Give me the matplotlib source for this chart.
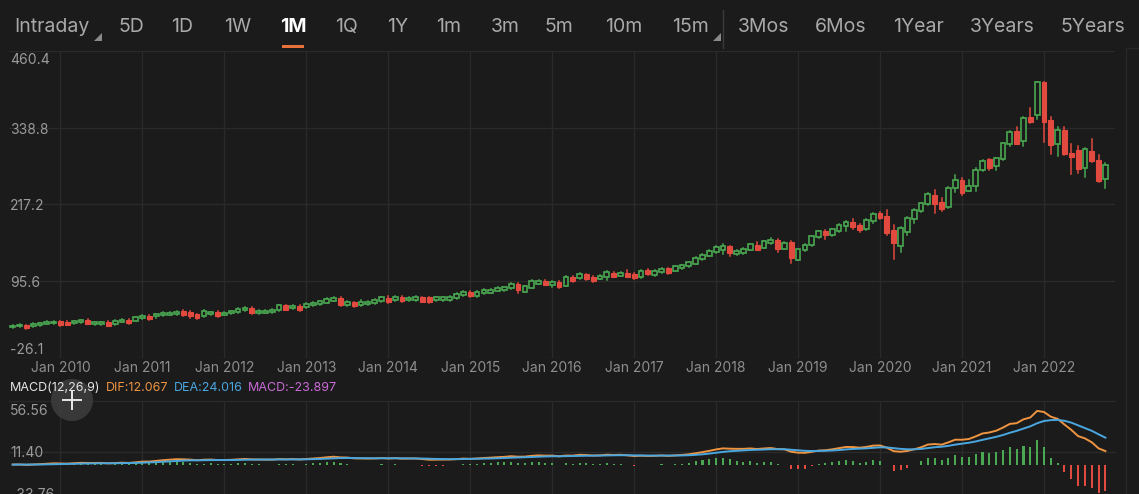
import numpy as np
import pandas as pd
import matplotlib
matplotlib.use('Agg')
import matplotlib.pyplot as plt
from matplotlib.patches import Rectangle, Ellipse
from matplotlib.lines import Line2D

'''
Monthly candles, Jun 2009 - Oct 2022 (values read off the chart)
'''
start_month = '2009-06'

opens = [22.5, 24.0, 25.8, 24.5, 26.0, 28.0, 29.0, 32.1, 31.0, 28.9,
         30.5, 34.2, 27.3, 27.3, 31.0, 27.9, 31.6, 34.7, 33.1, 37.4,
         41.1, 40.0, 42.1, 42.7, 44.3, 48.5, 47.4, 43.2, 40.6, 43.2,
         46.9, 42.7, 44.8, 46.9, 49.6, 53.3, 44.8, 45.8, 46.9, 49.6,
         57.5, 52.7, 57.0, 54.9, 58.0, 59.1, 61.7, 64.9, 69.7, 58.0,
         62.2, 58.0, 59.1, 61.2, 63.8, 69.7, 66.0, 70.7, 65.4, 66.0,
         70.2, 70.2, 66.0, 66.0, 66.0, 69.1, 73.4, 78.7, 72.3, 76.6,
         77.6, 80.8, 81.8, 84.5, 91.9, 79.2, 85.5, 91.9, 96.1, 89.2,
         94.5, 88.7, 103.0, 100.4, 106.7, 103.0, 99.3, 101.9, 109.3, 104.1,
         109.3, 107.2, 101.9, 114.1, 105.6, 109.9, 116.2, 112.0, 116.2, 118.9,
         123.1, 130.5, 135.8, 141.1, 144.8, 150.6, 138.5, 140.0, 145.3, 152.7,
         148.5, 155.4, 161.2, 147.4, 158.0, 129.5, 144.3, 152.2, 164.9, 175.5,
         168.1, 175.0, 183.4, 188.7, 184.5, 177.6, 191.4, 203.0, 199.3, 176.0,
         151.2, 173.4, 193.5, 206.2, 217.3, 232.1, 221.0, 212.5, 243.2, 255.9,
         239.0, 246.9, 271.3, 288.7, 278.7, 288.7, 313.1, 333.7, 317.3, 355.4,
         359.7, 410.5, 351.2, 313.1, 335.8, 299.3, 303.6, 274.4, 302.5, 287.7, 258.0]

highs = [26.0, 27.0, 26.8, 29.0, 30.0, 32.0, 32.5, 33.0, 32.0, 33.0,
         34.7, 35.2, 31.5, 31.5, 32.0, 34.2, 35.7, 35.7, 39.4, 41.6,
         42.1, 44.2, 46.3, 46.8, 48.4, 49.5, 48.4, 44.2, 50.0, 47.4,
         47.9, 46.8, 49.0, 53.2, 54.3, 54.3, 50.0, 50.0, 51.1, 58.5,
         58.5, 57.4, 58.0, 60.6, 62.7, 64.8, 69.1, 70.1, 70.7, 63.8,
         63.2, 65.4, 64.3, 67.0, 71.2, 72.0, 72.3, 71.7, 70.7, 71.7,
         71.2, 71.2, 71.2, 71.2, 72.3, 76.5, 80.2, 79.7, 80.2, 83.4,
         83.4, 86.5, 87.1, 92.4, 93.0, 88.7, 97.7, 97.1, 97.1, 95.5,
         95.5, 104.0, 104.0, 108.2, 107.7, 104.0, 105.1, 111.9, 110.3, 110.3,
         114.1, 108.2, 113.0, 115.1, 113.0, 116.7, 117.2, 119.9, 122.0, 126.8,
         133.6, 138.9, 144.8, 151.1, 153.8, 151.6, 144.8, 147.9, 154.8, 157.5,
         160.1, 163.9, 162.2, 157.4, 159.0, 146.9, 154.3, 168.0, 175.4, 176.5,
         178.6, 185.5, 191.4, 193.5, 185.5, 194.0, 203.5, 205.0, 208.3, 184.5,
         181.2, 197.1, 209.3, 219.9, 235.2, 240.0, 227.9, 244.2, 263.9, 258.6,
         255.4, 274.4, 287.1, 289.7, 291.3, 315.1, 333.1, 339.5, 355.9, 369.7,
         411.5, 411.5, 355.4, 339.5, 340.6, 313.1, 309.4, 306.7, 321.0, 295.1, 282.4]

lows = [21.5, 23.0, 20.0, 23.5, 25.0, 27.0, 28.0, 25.3, 25.5, 27.9,
        29.5, 27.4, 26.3, 26.3, 24.2, 26.9, 30.6, 27.9, 32.1, 36.4,
        34.3, 37.4, 41.1, 41.7, 42.1, 41.1, 37.4, 35.9, 39.6, 42.2,
        39.6, 41.7, 43.8, 45.9, 48.6, 44.3, 43.8, 44.8, 45.9, 48.6,
        49.6, 51.7, 49.1, 53.9, 57.0, 58.1, 60.7, 63.9, 57.0, 57.0,
        54.9, 57.0, 58.1, 60.2, 62.8, 61.8, 65.0, 62.8, 64.4, 65.0,
        62.3, 61.8, 65.0, 65.0, 63.8, 68.1, 72.4, 70.8, 71.3, 75.6,
        76.6, 79.8, 80.8, 83.5, 77.1, 78.2, 84.5, 90.9, 88.8, 86.6,
        85.6, 87.7, 95.1, 99.4, 97.2, 95.1, 98.3, 97.7, 102.0, 103.1,
        101.5, 99.4, 100.9, 105.7, 104.6, 108.9, 107.8, 111.0, 115.2, 117.9,
        122.1, 129.5, 134.8, 140.1, 138.5, 135.8, 137.5, 139.0, 144.3, 144.3,
        147.5, 154.4, 142.2, 146.4, 125.2, 128.5, 143.3, 151.2, 163.9, 162.3,
        167.1, 174.0, 175.0, 178.1, 173.4, 176.6, 188.2, 194.0, 168.1, 131.0,
        142.2, 169.1, 188.2, 205.2, 216.3, 204.1, 206.7, 211.5, 236.9, 232.0,
        238.0, 239.0, 270.3, 271.3, 272.3, 287.7, 309.9, 312.6, 310.4, 346.9,
        352.8, 315.7, 297.7, 294.6, 295.7, 266.0, 267.0, 260.7, 285.1, 253.3, 242.7]

closes = [25.0, 26.0, 21.0, 28.0, 29.0, 31.0, 31.5, 26.3, 26.5, 32.1,
          33.7, 28.4, 30.5, 30.5, 25.2, 33.2, 34.7, 28.9, 38.4, 40.6,
          35.3, 43.2, 45.3, 45.8, 47.4, 42.1, 40.6, 36.9, 49.0, 46.4,
          40.6, 45.8, 48.0, 52.2, 53.3, 45.3, 49.0, 49.0, 50.1, 57.5,
          50.6, 56.4, 50.1, 59.6, 61.7, 63.8, 68.1, 69.1, 58.0, 62.8,
          55.9, 62.8, 63.3, 66.0, 70.2, 62.8, 71.3, 63.8, 69.7, 70.7,
          63.3, 62.8, 70.2, 70.2, 71.3, 75.5, 79.2, 71.8, 79.2, 82.4,
          82.4, 85.5, 86.1, 91.4, 81.3, 87.7, 96.7, 96.1, 89.8, 94.5,
          86.6, 103.0, 96.1, 107.2, 98.8, 96.1, 104.1, 110.9, 103.0, 109.3,
          102.5, 100.4, 112.0, 106.7, 112.0, 115.7, 108.8, 118.9, 121.0, 125.8,
          132.6, 137.9, 143.8, 150.1, 151.2, 140.6, 143.8, 146.9, 153.8, 145.3,
          159.1, 160.7, 147.4, 156.4, 132.1, 145.9, 153.3, 167.0, 174.4, 168.6,
          177.6, 184.5, 189.8, 181.3, 176.0, 193.0, 202.5, 195.6, 171.3, 155.4,
          180.2, 196.1, 208.3, 218.9, 234.2, 218.3, 209.4, 243.2, 255.4, 234.8,
          246.4, 272.3, 286.1, 275.0, 290.3, 314.1, 332.1, 313.6, 354.9, 348.0,
          410.5, 348.5, 312.0, 335.3, 296.7, 291.9, 273.4, 305.7, 286.1, 254.9, 279.7]

price_ticks = [460.4, 338.8, 217.2, 95.6, -26.1]
macd_ticks = [56.56, 11.40, -33.76]

periods = ['Intraday', '5D', '1D', '1W', '1M', '1Q', '1Y', '1m', '3m', '5m',
           '10m', '15m', '3Mos', '6Mos', '1Year', '3Years', '5Years']
active_period = '1M'

macd_legend = ['MACD(12,26,9)', 'DIF:12.067', 'DEA:24.016', 'MACD:-23.897']

# layout (pixels)
W, H = 1139, 494
period_x = [52, 131, 182, 237.5, 293, 346.5, 397.5, 449, 505, 559,
            624, 690.5, 763.5, 841, 918, 1002.5, 1092.5]
legend_x = [10, 106, 174, 248]

BG = '#1b1b1b'
GRID = '#2a2a2a'
GREEN = '#4aa852'
RED = '#e2493f'
LABEL = '#9b9b9b'
ORANGE = '#ef9440'
BLUE = '#4aa7e0'
PURPLE = '#c96ad6'

plt.rcParams['font.family'] = ['Inter', 'DejaVu Sans']

months = pd.date_range(start_month, periods=len(closes), freq='MS')
n = len(closes)
xs = np.arange(n)

# MACD(12,26,9) from closes
cs = pd.Series(closes)
dif = cs.ewm(span=12, adjust=False).mean() - cs.ewm(span=26, adjust=False).mean()
dea = dif.ewm(span=9, adjust=False).mean()
hist = 2 * (dif - dea)

fig = plt.figure(figsize=(W / 100, H / 100), dpi=100, facecolor=BG)

def fx(px):
    return px / W

def fy(py):
    return 1 - py / H

xl = (-0.54, 161.4)
ax = fig.add_axes([fx(9), fy(358), fx(1115) - fx(9), fy(51) - fy(358)], facecolor=BG)
ax2 = fig.add_axes([fx(9), fy(494), fx(1115) - fx(9), fy(400.7) - fy(494)], facecolor=BG)

for a in (ax, ax2):
    a.set_xlim(*xl)
    for s in a.spines.values():
        s.set_visible(False)
    a.set_xticks([])
    a.set_yticks([])

ax.set_ylim(price_ticks[-1], price_ticks[0])
ax2.set_ylim(-26.06, macd_ticks[0])

# vertical grid at each January
jan_idx = [i for i, m in enumerate(months) if m.month == 1]
for i in jan_idx:
    ax.axvline(i, color=GRID, lw=1, zorder=0)
    ax2.axvline(i, color=GRID, lw=1, zorder=0)
    ax.text(i, -0.034, months[i].strftime('Jan %Y'), transform=ax.get_xaxis_transform(),
            ha='center', va='center', color='#8e8e8e', fontsize=10)

# horizontal grid + labels
tr = ax.get_yaxis_transform()
for k, t in enumerate(price_ticks):
    ax.axhline(t, color=GRID, lw=1, zorder=0)
    if k == 0:
        va, off = 'top', -2.5
    elif k == len(price_ticks) - 1:
        va, off = 'bottom', 1.5
    else:
        va, off = 'center', -3.0
    ax.text(0.001, t + off, f'{t:.1f}', transform=tr, ha='left', va=va,
            color=LABEL, fontsize=10)

tr2 = ax2.get_yaxis_transform()
for k, t in enumerate(macd_ticks):
    ax2.axhline(t, color=GRID, lw=1, zorder=0, clip_on=False)
    if k == 0:
        va, off = 'top', -2.5
    elif k == 1:
        va, off = 'center', -1.5
    else:
        va, off = 'bottom', 1.0
    ax2.text(0.001, t + off, f'{t:.2f}', transform=tr2, ha='left', va=va,
             color=LABEL, fontsize=10, clip_on=False)

# candles
bw = 0.7
for i in range(n):
    o, h, l, c = opens[i], highs[i], lows[i], closes[i]
    up = c >= o
    col = GREEN if up else RED
    ax.add_line(Line2D([i, i], [l, h], color=col, lw=1.1, zorder=2))
    bot = min(o, c)
    ht = max(abs(c - o), 1.2)
    if up:
        ax.add_patch(Rectangle((i - bw / 2, bot), bw, ht, facecolor=BG,
                               edgecolor=col, lw=1.2, zorder=3))
    else:
        ax.add_patch(Rectangle((i - bw / 2, bot), bw, ht, facecolor=col,
                               edgecolor=col, lw=0.8, zorder=3))

# MACD panel
hcols = [GREEN if v >= 0 else RED for v in hist]
ax2.bar(xs, hist.values, width=0.3, color=hcols, zorder=2)
ax2.plot(xs, dif.values, color=ORANGE, lw=1.4, zorder=3)
ax2.plot(xs, dea.values, color=BLUE, lw=1.4, zorder=4)

# crosshair button (under the legend text)
fig.add_artist(Ellipse((fx(72), fy(400)), 42 / W, 42 / H, transform=fig.transFigure,
                       facecolor='#404040', edgecolor='none', alpha=0.8, zorder=1))
fig.add_artist(Line2D([fx(63), fx(81)], [fy(400), fy(400)], transform=fig.transFigure,
                      color='#e8e8e8', lw=1.4, zorder=1.5))
fig.add_artist(Line2D([fx(72), fx(72)], [fy(391), fy(409)], transform=fig.transFigure,
                      color='#e8e8e8', lw=1.4, zorder=1.5))

# MACD legend text
leg_cols = ['#e6e6e6', ORANGE, BLUE, PURPLE]
for txt, x, col in zip(macd_legend, legend_x, leg_cols):
    fig.text(fx(x), fy(388), txt, ha='left', va='center', color=col, fontsize=9, zorder=3)

# period toolbar
for p, x in zip(periods, period_x):
    active = p == active_period
    fig.text(fx(x), fy(27), p, ha='center', va='center',
             color='#ffffff' if active else '#a9a9a9',
             fontsize=14, fontweight='bold' if active else 'normal')
fig.add_artist(Rectangle((fx(282), fy(47.7)), 22 / W, 2.7 / H, transform=fig.transFigure,
                         facecolor='#e8703a', edgecolor='none'))
# little dropdown triangles
for tx in (98, 717):
    fig.add_artist(plt.Polygon([[fx(tx + 4), fy(33)], [fx(tx + 4), fy(41)], [fx(tx - 4), fy(41)]],
                               closed=True, transform=fig.transFigure,
                               facecolor='#8a8a8a', edgecolor='none'))
fig.add_artist(Line2D([fx(723), fx(723)], [fy(10), fy(48)], transform=fig.transFigure,
                      color='#3a3a3a', lw=1))

# faint right side panel edge
fig.add_artist(Line2D([fx(1125.5), fx(1125.5)], [fy(48), fy(494)], transform=fig.transFigure,
                      color='#272727', lw=1))
fig.add_artist(Line2D([fx(1125.5), fx(1139)], [fy(48), fy(48)], transform=fig.transFigure,
                      color='#272727', lw=1))

fig.savefig('out.png', dpi=100, facecolor=BG)
